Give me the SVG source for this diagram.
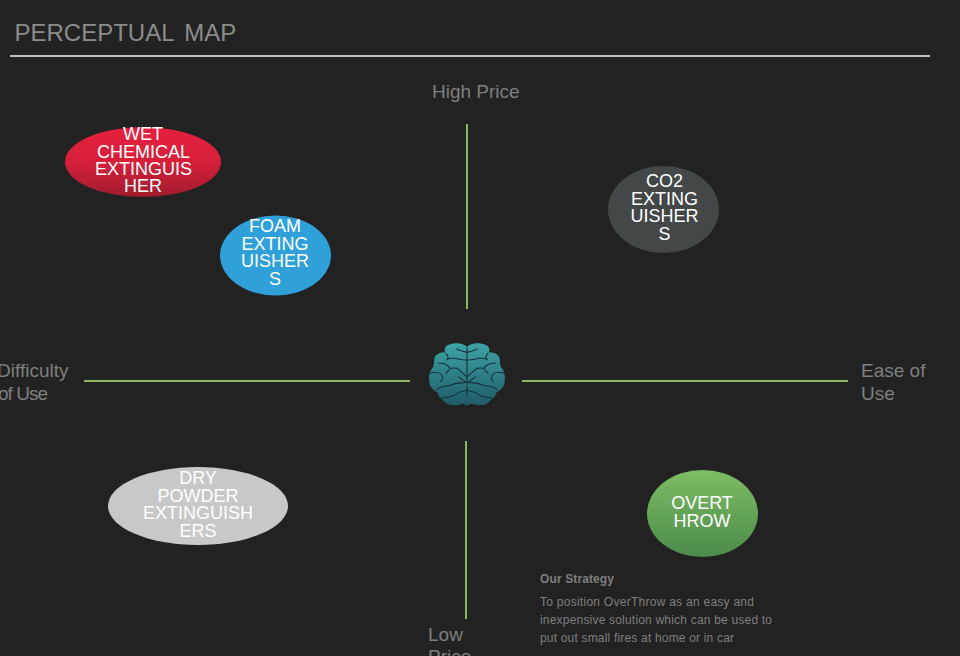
<svg xmlns="http://www.w3.org/2000/svg" width="960" height="656" viewBox="0 0 960 656">
<style>
text{font-family:"Liberation Sans",Arial,sans-serif}
.axis{fill:#7f7f7f;font-size:19px}
.n{fill:#fff;font-size:18px;text-anchor:middle}
.l{stroke:#8db662;stroke-width:2;fill:none}
.b{stroke:#15303a;stroke-width:3.2;fill:none;stroke-linecap:round;stroke-linejoin:round}
.s{fill:#7f7f7f;font-size:12px}
</style>
<defs>
<linearGradient id="red" x1="0" y1="0" x2="0" y2="1"><stop offset="0" stop-color="#e6203f"/><stop offset=".5" stop-color="#d61f3b"/><stop offset="1" stop-color="#a01c2e"/></linearGradient>
<linearGradient id="green" x1="0" y1="0" x2="0" y2="1"><stop offset="0" stop-color="#7dbd64"/><stop offset="1" stop-color="#4c8b4a"/></linearGradient>
<linearGradient id="teal" x1="0" y1="0" x2="0" y2="1"><stop offset="0" stop-color="#3ea4a7"/><stop offset="1" stop-color="#1f5a64"/></linearGradient>
<g id="veins">
<path class="b" d="M141 52C130 50 120 46 110 42M78 55C85 62 85 70 80 75M141 75C130 76 115 72 105 70C98 68 90 72 84 72M55 85C70 83 85 90 90 100C88 108 80 110 78 115M141 125C130 118 120 105 110 100C100 98 95 100 90 100M115 125C120 130 128 135 135 140M30 115C45 110 58 112 65 120C70 125 68 135 62 140M50 165C60 150 85 155 95 150C110 142 125 145 141 142M62 190C80 188 100 185 112 175C122 168 135 170 141 165"/>
</g>
</defs>
<rect width="960" height="656" fill="#222222"/>
<g id="title"><text x="14.500" y="41" fill="#8c8c8c" font-size="24" word-spacing="4">PERCEPTUAL MAP</text>
<line x1="10" y1="56" x2="930" y2="56" stroke="#bfbfbf" stroke-width="2"/></g>
<g id="connectors">
<line class="l" x1="467" y1="124" x2="467" y2="309"/>
<line class="l" x1="84" y1="381" x2="410" y2="381"/>
<line class="l" x1="522" y1="381" x2="848" y2="381"/>
<line class="l" x1="466" y1="441" x2="466" y2="619"/>
</g>
<g id="axis-labels">
<text class="axis" x="432" y="98">High Price</text>
<text class="axis" x="-3" y="377">Difficulty</text><text class="axis" x="-2" y="400" textLength="50">of Use</text>
<text class="axis" x="861" y="377">Ease of</text><text class="axis" x="861" y="400">Use</text>
<text class="axis" x="428" y="641">Low</text><text class="axis" x="428" y="663">Price</text>
</g>
<g id="node-wet"><ellipse cx="143" cy="162" rx="78" ry="35" fill="url(#red)"/>
<text class="n" x="143" y="140">WET</text><text class="n" x="143.500" y="158">CHEMICAL</text><text class="n" x="143.500" y="175">EXTINGUIS</text><text class="n" x="143" y="192">HER</text></g>
<g id="node-foam"><ellipse cx="275.500" cy="255.500" rx="55.500" ry="40" fill="#2fa0d8"/>
<text class="n" x="275" y="232">FOAM</text><text class="n" x="275" y="250">EXTING</text><text class="n" x="275" y="267">UISHER</text><text class="n" x="275" y="285">S</text></g>
<g id="node-co2"><ellipse cx="663.500" cy="209.500" rx="55.500" ry="43.500" fill="#434747"/>
<text class="n" x="664.500" y="187">CO2</text><text class="n" x="664.500" y="205">EXTING</text><text class="n" x="664.500" y="222">UISHER</text><text class="n" x="664.500" y="240">S</text></g>
<g id="node-dry"><ellipse cx="198" cy="506" rx="90" ry="39" fill="#c8c8c8"/>
<text class="n" x="198" y="484">DRY</text><text class="n" x="198" y="502">POWDER</text><text class="n" x="198" y="519">EXTINGUISH</text><text class="n" x="198" y="537">ERS</text></g>
<g id="node-overthrow"><ellipse cx="702.500" cy="513.500" rx="55.500" ry="43.500" fill="url(#green)"/>
<text class="n" x="702" y="509">OVERT</text><text class="n" x="702" y="527">HROW</text></g>
<g id="brain" transform="translate(420 335) scale(.3333)">
<path fill="url(#teal)" d="M141 36C130 22 100 22 85 30C75 32 72 45 75 52C55 52 42 62 42 78C44 86 40 92 38 98C28 108 26 125 28 140C28 155 40 165 52 172C55 185 65 195 72 197C80 210 105 216 125 206C132 206 138 210 141 213C144 210 150 206 157 206C177 216 202 210 210 197C217 195 227 185 230 172C242 165 254 155 254 140C256 125 254 108 244 98C242 92 238 86 240 78C240 62 227 52 207 52C210 45 207 32 197 30C182 22 152 22 141 36Z"/>
<path class="b" d="M141 38V182"/>
<use href="#veins"/>
<use href="#veins" transform="translate(282 0) scale(-1 1)"/>
</g>
<g id="strategy">
<text class="s" x="540" y="583" font-weight="bold" textLength="74">Our Strategy</text>
<text class="s" x="540" y="606" textLength="214">To position OverThrow as an easy and</text>
<text class="s" x="540" y="624" textLength="232">inexpensive solution which can be used to</text>
<text class="s" x="540" y="642" textLength="194">put out small fires at home or in car</text>
</g>
</svg>
